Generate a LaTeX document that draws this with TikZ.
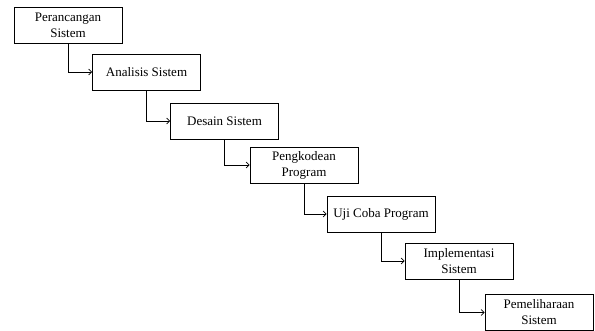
\documentclass[tikz,border=0pt]{standalone}
\usepackage{fontspec}
\setmainfont{Liberation Serif}
\usetikzlibrary{arrows.meta}
\begin{document}
\begin{tikzpicture}[x=1pt,y=-1pt,
  stage/.style={draw, line width=0.8pt, minimum width=108pt, minimum height=36pt, align=center, inner sep=2pt,
    font=\fontsize{13pt}{16pt}\selectfont},
  flow/.style={draw, line width=0.7pt, -{Straight Barb[length=3pt,width=6pt]}}]
\useasboundingbox (0,0) rectangle (595,331);
\node[stage] (s1) at (68,25) {Perancangan\\Sistem};
\node[stage] (s2) at (146.5,72) {Analisis Sistem};
\node[stage] (s3) at (224.5,121) {Desain Sistem};
\node[stage] (s4) at (304,165) {Pengkodean\\Program};
\node[stage] (s5) at (381,214) {Uji Coba Program};
\node[stage] (s6) at (459,261) {Implementasi\\Sistem};
\node[stage] (s7) at (539,312.5) {Pemeliharaan\\Sistem};
\draw[flow] (s1.south) |- (s2.west);
\draw[flow] (s2.south) |- (s3.west);
\draw[flow] (s3.south) |- (s4.west);
\draw[flow] (s4.south) |- (s5.west);
\draw[flow] (s5.south) |- (s6.west);
\draw[flow] (s6.south) |- (s7.west);
\end{tikzpicture}
\end{document}
